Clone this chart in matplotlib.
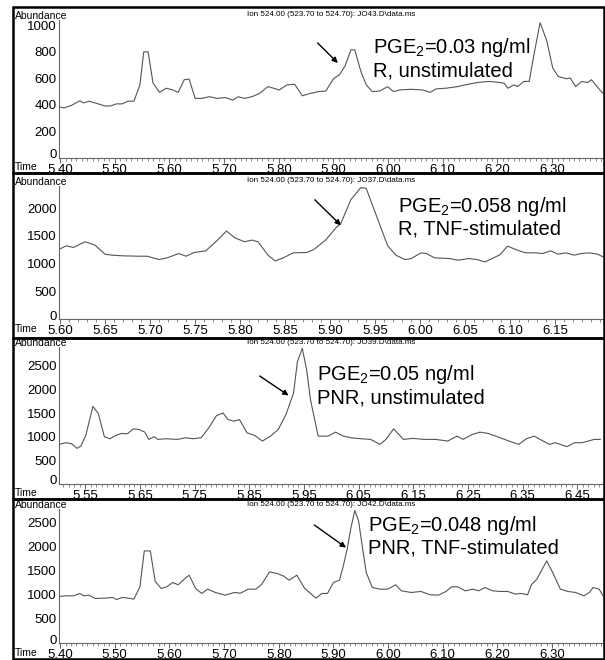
import matplotlib
matplotlib.use("Agg")
import matplotlib.pyplot as plt
import matplotlib.transforms as mtransforms
from matplotlib.patches import Rectangle
import numpy as np

plt.rcParams['font.family'] = ['Liberation Sans', 'DejaVu Sans']
plt.rcParams['mathtext.fontset'] = 'custom'
plt.rcParams['mathtext.rm'] = 'Liberation Sans'
plt.rcParams['mathtext.it'] = 'Liberation Sans'

# ---------------- data ----------------
p1_time = [5.398, 5.407, 5.421, 5.436, 5.443, 5.453, 5.468, 5.482, 5.492, 5.503, 5.514, 5.524, 5.535,
           5.546, 5.553, 5.561, 5.570, 5.582, 5.594, 5.606, 5.616, 5.627, 5.636, 5.647, 5.659, 5.673,
           5.687, 5.702, 5.716, 5.726, 5.737, 5.751, 5.765, 5.780, 5.787, 5.801, 5.815, 5.829, 5.843,
           5.858, 5.872, 5.886, 5.900, 5.911, 5.921, 5.932, 5.939, 5.950, 5.960, 5.971, 5.985, 5.999,
           6.010, 6.021, 6.042, 6.063, 6.077, 6.088, 6.106, 6.127, 6.141, 6.163, 6.184, 6.198, 6.212,
           6.219, 6.230, 6.237, 6.248, 6.258, 6.268, 6.278, 6.290, 6.301, 6.311, 6.326, 6.333, 6.343,
           6.354, 6.365, 6.372, 6.382, 6.393]
p1_abund = [385, 377, 397, 431, 415, 428, 410, 392, 392, 408, 408, 428, 428,
            551, 800, 800, 564, 495, 526, 513, 495, 590, 595, 449, 449, 462,
            449, 456, 436, 462, 449, 462, 487, 538, 530, 513, 551, 556, 469,
            487, 500, 505, 597, 628, 692, 815, 815, 654, 551, 500, 505, 538,
            500, 513, 518, 513, 495, 521, 526, 538, 551, 569, 577, 572, 564,
            526, 551, 538, 577, 577, 808, 1020, 885, 679, 615, 597, 603, 538,
            577, 569, 590, 538, 487]

p2_time = [5.599, 5.607, 5.615, 5.628, 5.639, 5.650, 5.658, 5.671, 5.689, 5.697, 5.710, 5.719, 5.732,
           5.740, 5.749, 5.762, 5.775, 5.785, 5.794, 5.805, 5.813, 5.820, 5.831, 5.839, 5.848, 5.859,
           5.874, 5.882, 5.895, 5.906, 5.912, 5.923, 5.934, 5.940, 5.949, 5.958, 5.964, 5.973, 5.983,
           5.990, 6.001, 6.007, 6.016, 6.033, 6.042, 6.054, 6.063, 6.072, 6.080, 6.089, 6.097, 6.108,
           6.117, 6.128, 6.136, 6.145, 6.153, 6.162, 6.171, 6.179, 6.188, 6.197, 6.203]
p2_abund = [1255, 1321, 1291, 1394, 1333, 1170, 1152, 1139, 1133, 1133, 1073, 1103, 1182,
            1133, 1200, 1230, 1424, 1588, 1467, 1394, 1424, 1394, 1152, 1048, 1103, 1194,
            1200, 1255, 1424, 1636, 1727, 2152, 2370, 2360, 1970, 1576, 1321, 1152, 1073,
            1091, 1194, 1182, 1103, 1091, 1061, 1091, 1073, 1030, 1091, 1164, 1315, 1242,
            1194, 1194, 1182, 1230, 1170, 1194, 1152, 1182, 1194, 1170, 1121]

p3_time = [5.502, 5.514, 5.525, 5.535, 5.542, 5.551, 5.564, 5.574, 5.585, 5.595, 5.606, 5.616, 5.627,
           5.638, 5.648, 5.659, 5.666, 5.676, 5.683, 5.697, 5.719, 5.733, 5.747, 5.762, 5.776, 5.790,
           5.802, 5.811, 5.822, 5.832, 5.846, 5.860, 5.874, 5.889, 5.903, 5.917, 5.931, 5.938, 5.947,
           5.955, 5.962, 5.976, 5.994, 6.008, 6.022, 6.036, 6.054, 6.072, 6.089, 6.100, 6.114, 6.132,
           6.149, 6.170, 6.191, 6.213, 6.230, 6.241, 6.258, 6.272, 6.287, 6.304, 6.325, 6.343, 6.357,
           6.371, 6.382, 6.399, 6.410, 6.431, 6.445, 6.459, 6.481, 6.492]
p3_abund = [839, 874, 853, 755, 804, 1028, 1643, 1490, 1000, 958, 1028, 1070, 1063,
            1168, 1154, 1098, 944, 1000, 944, 958, 944, 979, 958, 979, 1189, 1448,
            1503, 1364, 1329, 1364, 1084, 1028, 909, 1014, 1154, 1469, 1923, 2587, 2870,
            2413, 1783, 1014, 1014, 1098, 1014, 979, 958, 944, 839, 944, 1168, 944,
            965, 944, 944, 909, 1014, 944, 1049, 1098, 1070, 1000, 909, 839, 958,
            1014, 944, 839, 874, 790, 874, 874, 944, 944]

p4_time = [5.398, 5.411, 5.425, 5.436, 5.443, 5.453, 5.464, 5.482, 5.496, 5.503, 5.514, 5.524, 5.535,
           5.546, 5.554, 5.565, 5.574, 5.585, 5.595, 5.606, 5.616, 5.627, 5.636, 5.648, 5.659, 5.670,
           5.684, 5.702, 5.719, 5.730, 5.744, 5.758, 5.769, 5.783, 5.797, 5.808, 5.819, 5.833, 5.847,
           5.858, 5.868, 5.879, 5.889, 5.900, 5.911, 5.918, 5.925, 5.932, 5.939, 5.946, 5.953, 5.960,
           5.971, 5.985, 5.999, 6.014, 6.024, 6.042, 6.060, 6.077, 6.092, 6.106, 6.116, 6.127, 6.141,
           6.155, 6.166, 6.177, 6.191, 6.205, 6.219, 6.233, 6.244, 6.255, 6.262, 6.272, 6.290, 6.301,
           6.315, 6.329, 6.343, 6.358, 6.368, 6.375, 6.386, 6.393]
p4_abund = [966, 979, 979, 1028, 979, 993, 924, 931, 945, 903, 945, 931, 910,
            1166, 1910, 1910, 1276, 1131, 1166, 1255, 1207, 1324, 1407, 1131, 1028, 1117,
            1048, 993, 1048, 1034, 1117, 1117, 1221, 1476, 1441, 1393, 1303, 1407, 1138,
            1028, 931, 1028, 1028, 1255, 1303, 1600, 1945, 2393, 2750, 2531, 1979, 1462,
            1152, 1117, 1117, 1207, 1083, 1048, 1069, 1000, 993, 1069, 1166, 1166, 1083,
            1117, 1083, 1152, 1083, 1069, 1069, 1014, 1028, 1000, 1207, 1324, 1703, 1462,
            1117, 1069, 1048, 979, 1048, 1152, 1117, 979]

files = ["JO43.D\\data.ms", "JO37.D\\data.ms", "JO39.D\\data.ms", "JO42.D\\data.ms"]
conc_labels = ["PGE$_{2}$=0.03 ng/ml", "PGE$_{2}$=0.058 ng/ml", "PGE$_{2}$=0.05 ng/ml", "PGE$_{2}$=0.048 ng/ml"]
cond_labels = ["R, unstimulated", "R, TNF-stimulated", "PNR, unstimulated", "PNR, TNF-stimulated"]

p1_xticks = [5.40, 5.50, 5.60, 5.70, 5.80, 5.90, 6.00, 6.10, 6.20, 6.30]
p2_xticks = [5.60, 5.65, 5.70, 5.75, 5.80, 5.85, 5.90, 5.95, 6.00, 6.05, 6.10, 6.15]
p3_xticks = [5.55, 5.65, 5.75, 5.85, 5.95, 6.05, 6.15, 6.25, 6.35, 6.45]
p4_xticks = p1_xticks
p1_yticks = [0, 200, 400, 600, 800, 1000]
p2_yticks = [0, 500, 1000, 1500, 2000]
p3_yticks = [0, 500, 1000, 1500, 2000, 2500]
p4_yticks = p3_yticks

# arrow tail / head (time, abundance)
arrows = [((5.871, 867), (5.908, 716)),
          ((5.883, 2152), (5.912, 1690)),
          ((5.869, 2287), (5.922, 1874)),
          ((5.865, 2448), (5.923, 1979))]

# ---------------- layout (pixels) ----------------
W, H = 605, 660
fig = plt.figure(figsize=(W / 100, H / 100), dpi=100)

panels = [
    dict(t=p1_time, a=p1_abund, xt=p1_xticks, yt=p1_yticks, xlim=(5.398, 6.393), ylim=(0, 1040),
         ax_px=(59, 603, 20, 158), frame=(7, 173), text_x=5.972, text_y=(833, 652)),
    dict(t=p2_time, a=p2_abund, xt=p2_xticks, yt=p2_yticks, xlim=(5.599, 6.203), ylim=(0, 2400),
         ax_px=(59, 603, 186, 319), frame=(173, 338), text_x=5.975, text_y=(2030, 1625)),
    dict(t=p3_time, a=p3_abund, xt=p3_xticks, yt=p3_yticks, xlim=(5.502, 6.497), ylim=(0, 2900),
         ax_px=(59, 603, 347, 484), frame=(338, 499), text_x=5.974, text_y=(2308, 1818)),
    dict(t=p4_time, a=p4_abund, xt=p4_xticks, yt=p4_yticks, xlim=(5.398, 6.393), ylim=(0, 2780),
         ax_px=(59, 603, 509, 643), frame=(499, 659), text_x=5.963, text_y=(2448, 1979)),
]

lift = mtransforms.ScaledTranslation(0, 4 / 100, fig.dpi_scale_trans)

for i, p in enumerate(panels):
    l, r, t, b = p["ax_px"]
    ax = fig.add_axes([l / W, 1 - b / H, (r - l) / W, (b - t) / H])
    ax.plot(p["t"], p["a"], color="#555555", lw=0.8)
    ax.set_xlim(*p["xlim"])
    ax.set_ylim(*p["ylim"])
    for s in ["top", "right"]:
        ax.spines[s].set_visible(False)
    for s in ["left", "bottom"]:
        ax.spines[s].set_color("#666666")
        ax.spines[s].set_linewidth(0.8)
    ax.set_xticks(p["xt"])
    ax.set_xticklabels(["%.2f" % v for v in p["xt"]])
    x0, x1 = p["xlim"]
    minors = np.arange(np.ceil(x0 * 100) / 100, x1, 0.01)
    ax.set_xticks(minors, minor=True)
    ax.set_yticks(p["yt"])
    ax.set_yticklabels([str(v) for v in p["yt"]])
    ax.tick_params(axis="x", which="major", direction="out", length=3.5, width=0.7, color="#666666",
                   labelsize=9.5, pad=0.5)
    ax.tick_params(axis="x", which="minor", direction="out", length=2.5, width=0.6, color="#777777")
    ax.tick_params(axis="y", which="both", length=0, labelsize=9.5, pad=1.5)
    # the "0" label sits a little above the time axis
    zero_lbl = ax.get_yticklabels()[0]
    zero_lbl.set_transform(zero_lbl.get_transform() + lift)
    ax.patch.set_alpha(0)

    # frame around the panel
    ft, fb = p["frame"]
    fig.patches.append(Rectangle((13 / W, 1 - fb / H), (604 - 13) / W, (fb - ft) / H,
                                 transform=fig.transFigure, fill=False, edgecolor="black",
                                 lw=1.8, zorder=5))
    # header texts
    fig.text(15 / W, 1 - (t - 4) / H, "Abundance", fontsize=7.5, ha="left", va="center")
    fig.text(15 / W, 1 - (b + 9.5) / H, "Time", fontsize=7.5, ha="left", va="center")
    fig.text(((l + r) / 2) / W, 1 - (t - 5) / H,
             "Ion 524.00 (523.70 to 524.70): " + files[i], fontsize=5.8, ha="center", va="center")

    # annotation texts
    ax.text(p["text_x"], p["text_y"][0], conc_labels[i], fontsize=14.5, ha="left", va="center")
    ax.text(p["text_x"], p["text_y"][1], cond_labels[i], fontsize=14.5, ha="left", va="center")
    tail, head = arrows[i]
    ax.annotate("", xy=head, xytext=tail,
                arrowprops=dict(arrowstyle="-|>", color="black", lw=1.0, mutation_scale=8,
                                shrinkA=0, shrinkB=0))

fig.savefig("out.png", dpi=100)
